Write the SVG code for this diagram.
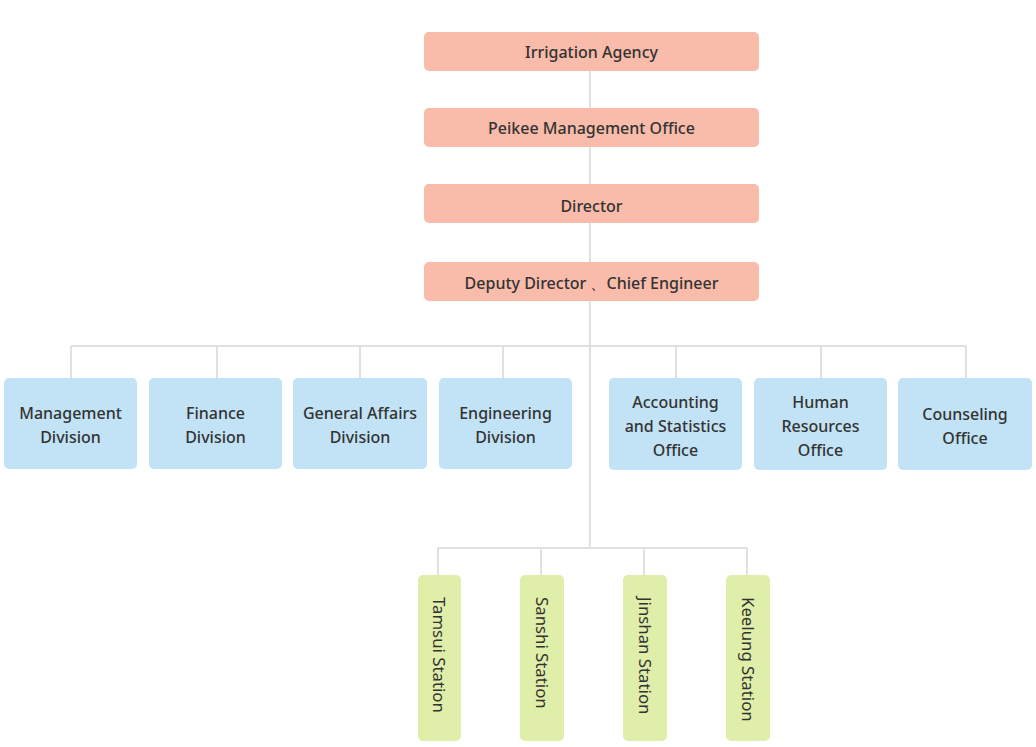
<svg xmlns="http://www.w3.org/2000/svg" width="1036" height="747" viewBox="0 0 1036 747">
<style>
.t{font-family:"Noto Sans","Liberation Sans",sans-serif;font-size:16px;fill:#333;text-anchor:middle;font-weight:500}
.v{font-family:"Noto Sans","Liberation Sans",sans-serif;font-size:16.8px;fill:#333;text-anchor:start;font-weight:400}
.top{fill:#f9bbaa}
.blue{fill:#c2e3f5}
.green{fill:#dfeea8}
.c{stroke:#e0e0e0;stroke-width:2;fill:none}
</style>
<rect width="1036" height="747" fill="#fff"/>
<g id="connectors" class="c">
<path d="M590 71V548"/>
<path d="M71 346H966"/>
<path d="M71 346V378M217 346V378M360 346V378M503 346V378M676 346V378M821 346V378M966 346V378"/>
<path d="M438 548H747"/>
<path d="M438 548V575M541 548V575M644 548V575M747 548V575"/>
</g>
<g id="irrigation"><rect class="top" x="424" y="32" width="335" height="39" rx="5"/><text class="t" x="591.5" y="57.5">Irrigation Agency</text></g>
<g id="peikee"><rect class="top" x="424" y="108" width="335" height="39" rx="5"/><text class="t" x="591.5" y="133.5">Peikee Management Office</text></g>
<g id="director"><rect class="top" x="424" y="184" width="335" height="39" rx="5"/><text class="t" x="591.5" y="211.5">Director</text></g>
<g id="deputy"><rect class="top" x="424" y="262" width="335" height="39" rx="5"/><text class="t" x="591.5" y="288.5">Deputy Director 、Chief Engineer</text></g>
<g id="management"><rect class="blue" x="4" y="378" width="133" height="91" rx="5"/><text class="t" x="70.5" y="419">Management</text><text class="t" x="70.5" y="443">Division</text></g>
<g id="finance"><rect class="blue" x="149" y="378" width="133" height="91" rx="5"/><text class="t" x="215.5" y="419">Finance</text><text class="t" x="215.5" y="443">Division</text></g>
<g id="general"><rect class="blue" x="293" y="378" width="134" height="91" rx="5"/><text class="t" x="360" y="419">General Affairs</text><text class="t" x="360" y="443">Division</text></g>
<g id="engineering"><rect class="blue" x="439" y="378" width="133" height="91" rx="5"/><text class="t" x="505.5" y="419">Engineering</text><text class="t" x="505.5" y="443">Division</text></g>
<g id="accounting"><rect class="blue" x="609" y="378" width="133" height="92" rx="5"/><text class="t" x="675.5" y="408">Accounting</text><text class="t" x="675.5" y="432">and Statistics</text><text class="t" x="675.5" y="456">Office</text></g>
<g id="human"><rect class="blue" x="754" y="378" width="133" height="92" rx="5"/><text class="t" x="820.5" y="408">Human</text><text class="t" x="820.5" y="432">Resources</text><text class="t" x="820.5" y="456">Office</text></g>
<g id="counseling"><rect class="blue" x="898" y="378" width="134" height="92" rx="5"/><text class="t" x="965" y="420">Counseling</text><text class="t" x="965" y="444">Office</text></g>
<g id="tamsui"><rect class="green" x="418" y="575" width="43" height="166" rx="5"/><text class="v" transform="translate(433 597) rotate(90)">Tamsui Station</text></g>
<g id="sanshi"><rect class="green" x="520" y="575" width="44" height="166" rx="5"/><text class="v" transform="translate(536 597) rotate(90)">Sanshi Station</text></g>
<g id="jinshan"><rect class="green" x="623" y="575" width="44" height="166" rx="5"/><text class="v" transform="translate(639 597) rotate(90)">Jinshan Station</text></g>
<g id="keelung"><rect class="green" x="726" y="575" width="44" height="166" rx="5"/><text class="v" transform="translate(742 597) rotate(90)">Keelung Station</text></g>
</svg>
